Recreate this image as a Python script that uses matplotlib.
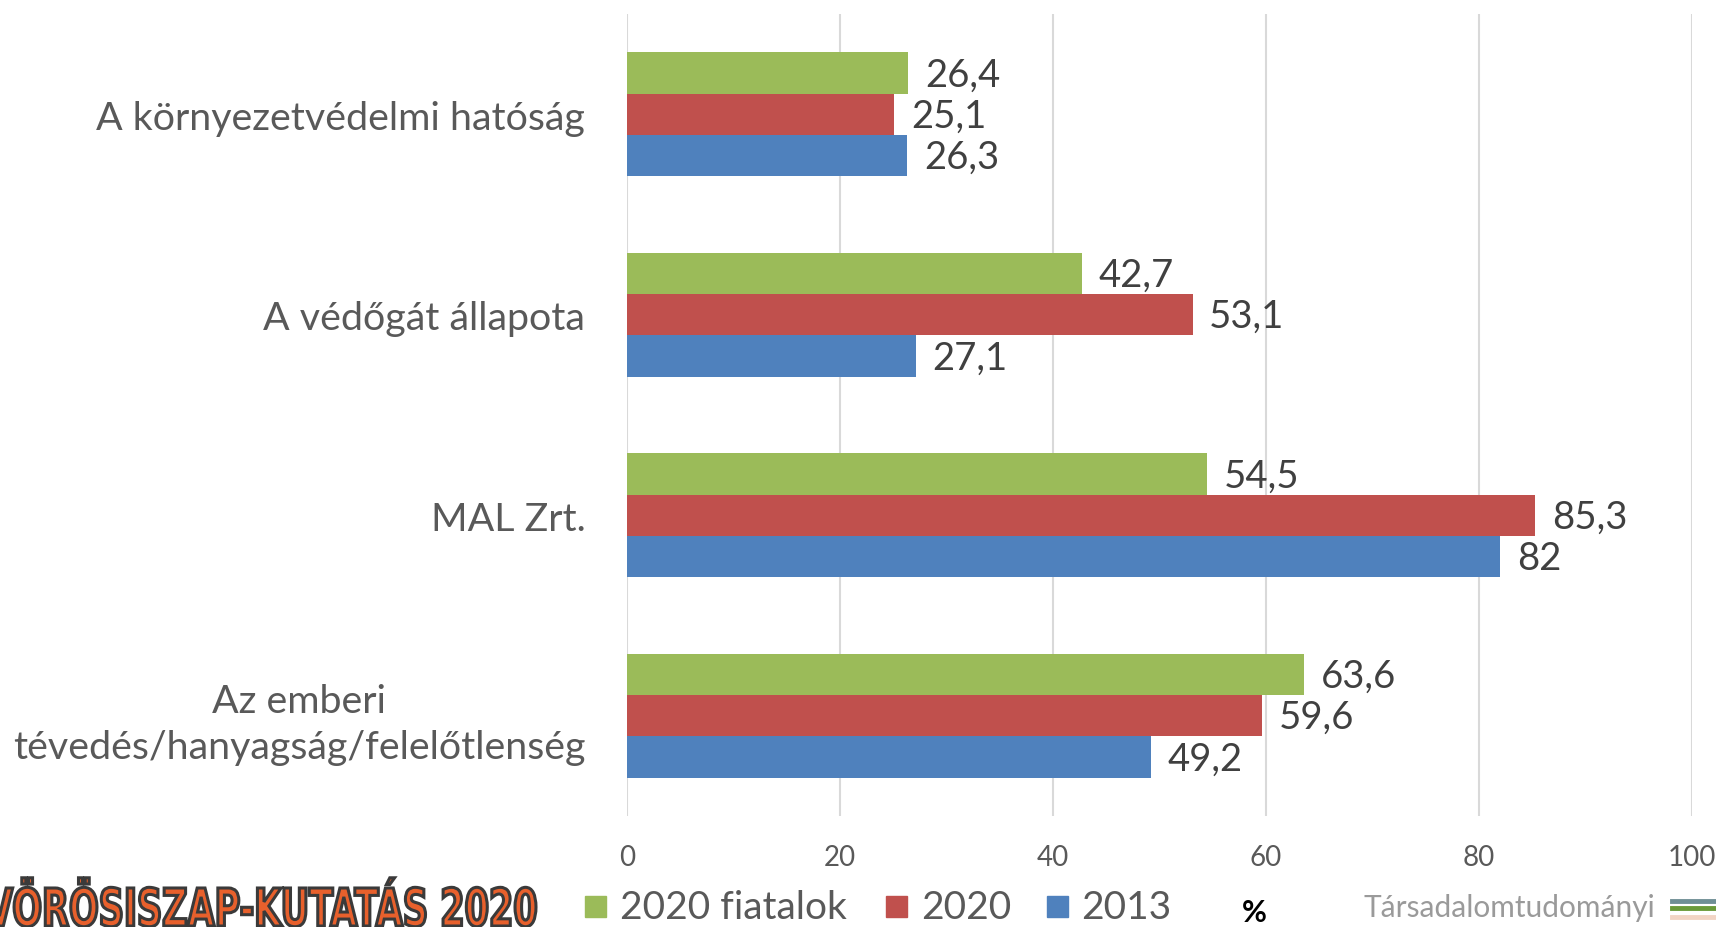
import matplotlib.pyplot as plt
from matplotlib.lines import Line2D
from matplotlib.patches import Rectangle, PathPatch
from matplotlib.textpath import TextPath
from matplotlib.font_manager import FontProperties
from matplotlib.transforms import Affine2D

plt.rcParams['font.family'] = ['Lato', 'DejaVu Sans']

# Adatok
kategoriak = ['A környezetvédelmi hatóság', 'A védőgát állapota', 'MAL Zrt.',
              'Az emberi\ntévedés/hanyagság/felelőtlenség']
sorozatok = ['2020 fiatalok', '2020', '2013']
fiatalok_2020 = [26.4, 42.7, 54.5, 63.6]
ertek_2020 = [25.1, 53.1, 85.3, 59.6]
ertek_2013 = [26.3, 27.1, 82, 49.2]
xtick_ertekek = [0, 20, 40, 60, 80, 100]

szinek = ['#9BBB59', '#C0504D', '#4F81BD']
W, H = 1716, 928

fig = plt.figure(figsize=(W / 100, H / 100), dpi=100)
ax = fig.add_axes([627 / W, 1 - 817 / H, (1692 - 627) / W, (817 - 15) / H])

y = list(range(len(kategoriak)))
h = 0.206
for k, (vals, c) in enumerate(zip([fiatalok_2020, ertek_2020, ertek_2013], szinek)):
    pos = [p + (k - 1) * h for p in y]
    bars = ax.barh(pos, vals, height=h, color=c, zorder=3)
    for b, v in zip(bars, vals):
        txt = f'{v:g}'.replace('.', ',')
        ax.annotate(txt, (b.get_width(), b.get_y() + b.get_height() / 2),
                    xytext=(12, -1), textcoords='offset points',
                    va='center', ha='left', fontsize=27.5, color='#404040')

ax.set_xlim(0, 100)
ax.set_ylim(len(kategoriak) - 0.5, -0.5)
ax.set_xticks(xtick_ertekek)
ax.set_yticks(y)
ax.set_yticklabels(kategoriak, fontsize=28.4, color='#595959',
                   multialignment='center', linespacing=1.35)
ax.tick_params(axis='x', length=0, pad=20, labelsize=20, labelcolor='#595959')
ax.tick_params(axis='y', length=0, pad=30)
ax.grid(axis='x', color='#D9D9D9', linewidth=1.5, zorder=0)
for s in ax.spines.values():
    s.set_visible(False)

# Jelmagyarázat alul
ly = 1 - 908 / H
for x0, x1, c, lab in [(585, 620, szinek[0], sorozatok[0]),
                       (886, 921, szinek[1], sorozatok[1]),
                       (1047, 1081, szinek[2], sorozatok[2])]:
    fig.patches.append(Rectangle((x0 / W, ly - 10 / H), 21 / W, 21 / H,
                                 color=c, transform=fig.transFigure))
    fig.text(x1 / W, ly, lab, fontsize=28, color='#595959', va='center', ha='left')
fig.text(1242 / W, ly - 5 / H, '%', fontsize=22, fontweight='bold', color='black',
         va='center', ha='left')

# Logo felirat (keskenyített betűk, pixelben)
logo = TextPath((0, 0), 'VÖRÖSISZAP-KUTATÁS 2020', size=52,
                prop=FontProperties(family='DejaVu Sans', weight='bold'))
bb = logo.get_extents()
sx = (536 + 14) / bb.width
sy = 38 / (0.729 * 52)
tr = Affine2D().translate(-bb.x0, 0).scale(sx, sy).translate(-14, 1)
fig.add_artist(PathPatch(logo, transform=tr, facecolor='#E8602C',
                         edgecolor='#3a3a3a', linewidth=2.2))

fig.text(1655 / W, ly, 'Társadalomtudományi', fontsize=21.5, color='#9A9A9A',
         ha='right', va='center')
for yy, c in [(902, '#6F8F95'), (909, '#6A9A3A'), (918, '#F2D4C4')]:
    fig.add_artist(Line2D([1672 / W, 1716 / W], [1 - yy / H] * 2, color=c,
                          linewidth=3.5, transform=fig.transFigure))

plt.savefig('out.png', dpi=100)
